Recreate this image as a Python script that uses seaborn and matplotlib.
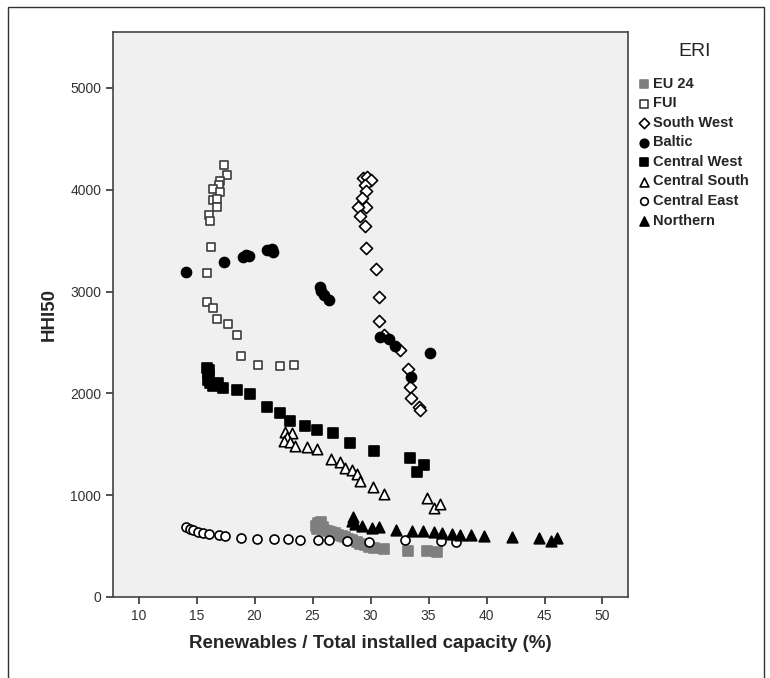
import pandas as pd
import seaborn as sns
import matplotlib.pyplot as plt
from matplotlib.patches import Rectangle

# values, one pair of lists per ERI group
eu24_x = [25.3, 25.5, 25.7, 25.4, 25.9, 26.0, 26.3, 26.6, 26.9, 27.2, 27.5, 27.8,
          28.1, 28.4, 28.8, 29.1, 29.5, 29.9, 30.3, 31.2, 33.2, 34.9, 35.7]
eu24_y = [700, 730, 735, 670, 690, 660, 645, 640, 625, 610, 600, 585,
          570, 555, 540, 525, 510, 495, 480, 470, 455, 450, 440]

fui_x = [17.4, 17.6, 17.0, 16.9, 16.4, 17.0, 16.4, 16.8, 16.8, 16.1, 16.15, 16.25,
         15.9, 15.9, 16.4, 16.8, 17.7, 18.5, 18.8, 20.3, 22.2, 23.4]
fui_y = [4240, 4150, 4090, 4050, 4005, 3980, 3900, 3910, 3830, 3750, 3690, 3440,
         3180, 2900, 2840, 2730, 2680, 2570, 2370, 2280, 2270, 2280]

sw_x = [29.35, 29.7, 30.0, 29.55, 29.6, 29.25, 29.65, 28.9, 29.1, 29.55, 29.6,
        30.45, 30.75, 30.75, 31.15, 32.55, 33.25, 33.4, 33.45, 34.15, 34.25]
sw_y = [4115, 4125, 4100, 4045, 3985, 3915, 3835, 3835, 3745, 3640, 3430,
        3225, 2950, 2715, 2570, 2425, 2235, 2060, 1950, 1870, 1835]

baltic_x = [14.1, 17.4, 19.0, 19.3, 19.5, 21.1, 21.5, 21.6, 25.65, 25.75, 26.0,
            26.4, 30.85, 31.55, 32.15, 35.1, 33.5]
baltic_y = [3190, 3290, 3335, 3355, 3350, 3405, 3420, 3390, 3045, 3005, 2965,
            2915, 2555, 2535, 2470, 2395, 2165]

cw_x = [15.9, 16.05, 15.95, 16.1, 16.0, 16.15, 16.45, 16.85, 17.3, 18.45, 19.6,
        21.1, 22.2, 23.1, 24.35, 25.35, 26.8, 28.25, 30.3, 33.4, 34.05, 34.6]
cw_y = [2250, 2230, 2200, 2170, 2135, 2100, 2075, 2100, 2050, 2035, 1995,
        1870, 1805, 1725, 1680, 1640, 1615, 1515, 1435, 1370, 1230, 1300]

cs_x = [22.65, 23.2, 22.8, 22.5, 23.05, 23.5, 24.5, 25.4, 26.6, 27.4, 27.8, 28.4,
        28.8, 29.05, 30.25, 31.2, 34.85, 35.5, 36.0]
cs_y = [1625, 1610, 1575, 1530, 1525, 1485, 1475, 1455, 1360, 1330, 1270, 1250,
        1205, 1135, 1085, 1010, 970, 875, 910]

ce_x = [14.1, 14.4, 14.7, 15.1, 15.55, 16.05, 16.9, 17.45, 18.85, 20.2, 21.7,
        22.9, 23.9, 25.45, 26.45, 27.95, 29.9, 33.0, 36.1, 37.4]
ce_y = [685, 668, 655, 640, 630, 620, 605, 595, 577, 572, 568,
        568, 558, 562, 560, 553, 540, 556, 553, 542]

north_x = [28.5, 28.4, 28.7, 29.3, 30.1, 30.75, 32.2, 33.6, 34.55, 35.5, 36.2,
           37.0, 37.7, 38.65, 39.75, 42.2, 44.55, 45.55, 46.05]
north_y = [785, 745, 720, 700, 680, 685, 660, 650, 645, 640, 625,
           620, 610, 605, 595, 590, 580, 545, 580]

groups = ["EU 24", "FUI", "South West", "Baltic", "Central West",
          "Central South", "Central East", "Northern"]
xs = [eu24_x, fui_x, sw_x, baltic_x, cw_x, cs_x, ce_x, north_x]
ys = [eu24_y, fui_y, sw_y, baltic_y, cw_y, cs_y, ce_y, north_y]

df = pd.concat([pd.DataFrame({"x": a, "y": b, "ERI": g}) for g, a, b in zip(groups, xs, ys)],
               ignore_index=True)

# marker, face, edge, size
styles = {
    "EU 24": ("s", "#7f7f7f", "#7f7f7f", 42),
    "FUI": ("s", "white", "#3c3c3c", 40),
    "South West": ("D", "white", "black", 38),
    "Baltic": ("o", "black", "black", 52),
    "Central West": ("s", "black", "black", 44),
    "Central South": ("^", "white", "black", 56),
    "Central East": ("o", "white", "black", 42),
    "Northern": ("^", "black", "black", 58),
}

sns.set_style("white")
plt.rcParams["font.family"] = ["Liberation Sans", "DejaVu Sans"]

fig = plt.figure(figsize=(7.7, 6.78), dpi=100)
ax = fig.add_axes([0.1468, 0.1195, 0.6688, 0.8333])
ax.set_facecolor("#f0f0f0")

for g in groups:
    m, fc, ec, s = styles[g]
    sns.scatterplot(data=df[df["ERI"] == g], x="x", y="y", marker=m, color=fc,
                    edgecolor=ec, s=s, linewidth=1.2, ax=ax, label=g, legend=False)

ax.set_xlim(7.8, 52.2)
ax.set_ylim(0, 5550)
ax.set_xticks(range(10, 51, 5))
ax.set_yticks(range(0, 5001, 1000))
ax.tick_params(axis="both", direction="out", length=5, width=1.2, colors="#333333",
               labelsize=10, bottom=True, left=True)
for side, sp in ax.spines.items():
    sp.set_color("#444444")
    sp.set_linewidth(1.2)

ax.set_xlabel("Renewables / Total installed capacity (%)", fontsize=13.5,
              fontweight="bold", labelpad=9)
ax.set_ylabel("HHI50", fontsize=13.5, fontweight="bold", labelpad=9)

handles, labels = ax.get_legend_handles_labels()
leg = ax.legend(handles, labels, title="ERI", loc="upper left",
                bbox_to_anchor=(0.823, 0.945), bbox_transform=fig.transFigure,
                frameon=False, markerscale=0.85, handlelength=0.6, handletextpad=0.35,
                labelspacing=0.38, borderaxespad=0,
                prop={"size": 10.5, "weight": "bold"}, title_fontsize=14)
leg._legend_box.sep = 12

fig.patches.append(Rectangle((0.0104, -0.05), 0.9818, 1.0397, transform=fig.transFigure,
                             fill=False, edgecolor="#333333", linewidth=1.0))

fig.savefig("out.png", dpi=100)
